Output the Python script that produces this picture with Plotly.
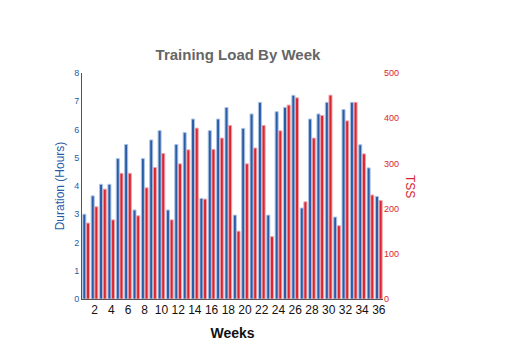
import plotly.graph_objects as go

weeks = list(range(1, 37))
duration_hours = [3.0, 3.65, 4.06, 4.06, 4.97, 5.47, 3.15, 4.97, 5.63, 5.96,
                  3.15, 5.47, 5.89, 6.37, 3.56, 5.96, 6.37, 6.78, 2.97, 6.04,
                  6.55, 6.96, 2.97, 6.63, 6.78, 7.21, 3.22, 6.37, 6.55, 6.96,
                  2.9, 6.71, 6.96, 5.46, 4.64, 3.63]
tss = [168, 204, 243, 175, 278, 278, 184, 246, 291, 322,
       175, 299, 330, 378, 221, 331, 356, 384, 150, 299,
       334, 384, 138, 372, 429, 445, 215, 356, 406, 451,
       162, 394, 435, 321, 230, 218]
x_ticks = list(range(2, 37, 2))

BLUE = "#2a5ca6"
RED = "#d8262f"
FONT = "Liberation Sans, Arial, sans-serif"

fig = go.Figure()
fig.add_trace(go.Bar(x=weeks, y=duration_hours, name="Duration",
                     marker=dict(color=BLUE, line=dict(color="#aac3e4", width=1)),
                     offsetgroup="a", yaxis="y"))
fig.add_trace(go.Bar(x=weeks, y=tss, name="TSS",
                     marker=dict(color=RED, line=dict(color="#f0a2aa", width=1)),
                     offsetgroup="b", yaxis="y2"))

fig.update_layout(
    width=525, height=350,
    margin=dict(l=82, r=142, t=73, b=51),
    paper_bgcolor="white", plot_bgcolor="white",
    showlegend=False,
    barmode="group", bargap=0.12, bargroupgap=0.18,
    font=dict(family=FONT),
    title=dict(text="<b>Training Load By Week</b>", x=238/525, xanchor="center",
               y=1 - 55/350, yanchor="middle",
               font=dict(size=15, color="#666666", family=FONT)),
    xaxis=dict(range=[0.5, 36.5], tickmode="array", tickvals=x_ticks,
               ticktext=[str(v) for v in x_ticks],
               showline=True, linecolor="#555555", linewidth=1,
               showgrid=False, zeroline=False, ticks="", ticklen=2,
               tickfont=dict(size=12, color="#111111"),
               title=dict(text="<b>Weeks</b>", font=dict(size=14, color="#111111"),
                          standoff=11)),
    yaxis=dict(range=[0, 8], dtick=1, showline=True, linecolor="#555555",
               linewidth=1, showgrid=False, zeroline=False, ticks="",
               tickfont=dict(size=9, color=BLUE),
               title=dict(text="Duration (Hours)", font=dict(size=12, color=BLUE),
                          standoff=6)),
    yaxis2=dict(range=[0, 500], dtick=100, overlaying="y", side="right",
                showline=False, showgrid=False, zeroline=False, ticks="",
                tickfont=dict(size=9, color=RED)),
    annotations=[dict(text="TSS", xref="paper", yref="paper",
                      x=(410 - 82) / 301, y=0.5, xanchor="center", yanchor="middle",
                      textangle=90, showarrow=False,
                      font=dict(size=12, color=RED, family=FONT))],
)

fig.write_html("out.html")
